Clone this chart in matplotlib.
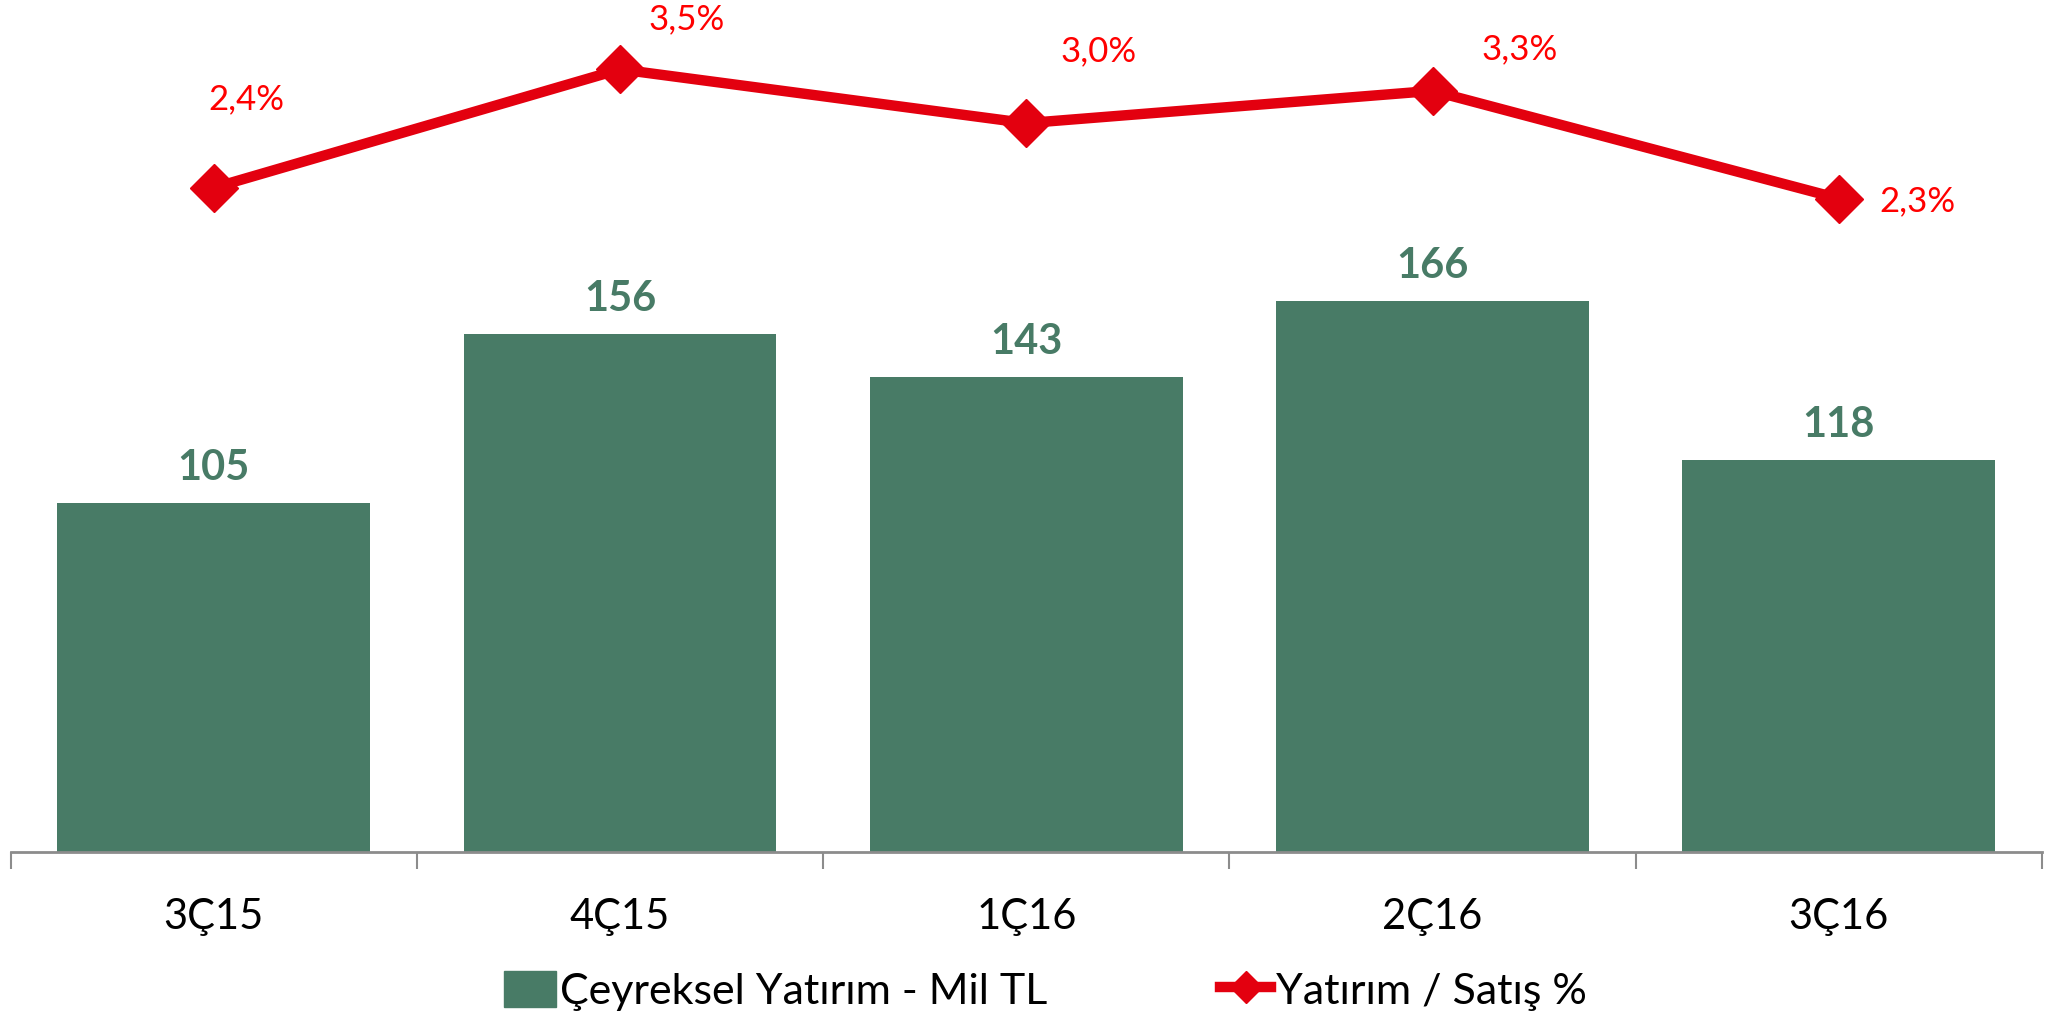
import numpy as np
import matplotlib.pyplot as plt
from matplotlib.lines import Line2D
from matplotlib.patches import Patch

plt.rcParams['font.family'] = ['Lato', 'DejaVu Sans']

quarters = ['3Ç15', '4Ç15', '1Ç16', '2Ç16', '3Ç16']
yatirim = [105, 156, 143, 166, 118]          # Mil TL
oran = [2.4, 3.5, 3.0, 3.3, 2.3]             # Yatırım / Satış %

GREEN = '#487B66'
RED_LINE = '#E3000F'
RED_TEXT = '#FF0000'
GRAY = '#8C8C8C'

# label offsets for the % labels (pixels), Excel-style hand placed
pct_offsets = [(33, 89), (67, 50), (72, 72), (87, 42), (79, -3)]

fig = plt.figure(figsize=(20.62, 10.21), dpi=100)
ax = fig.add_axes([0.0051, 0.1655, 0.9852, 0.813])
x = np.arange(len(quarters))

bars = ax.bar(x, yatirim, width=0.77, color=GREEN, zorder=2)
for xi, v in zip(x, yatirim):
    ax.annotate(str(v), (xi, v), xytext=(0, 16), textcoords='offset pixels',
                ha='center', va='bottom', fontsize=30, fontweight='bold',
                color=GREEN)

ax.set_xlim(-0.5, len(quarters) - 0.5)
ax.set_ylim(0, 250)
ax.set_yticks([])
for s in ['left', 'right', 'top']:
    ax.spines[s].set_visible(False)
ax.spines['bottom'].set_color(GRAY)
ax.spines['bottom'].set_linewidth(2)
ax.set_xticks(x)
ax.set_xticklabels(quarters, fontsize=30)
ax.tick_params(axis='x', which='major', length=0, pad=33)
ax.set_xticks(np.arange(-0.5, len(quarters), 1), minor=True)
ax.tick_params(axis='x', which='minor', length=12, width=1.5, color=GRAY)

ax2 = ax.twinx()
ax2.plot(x, oran, color=RED_LINE, lw=7.5, marker='D', markersize=24,
         zorder=3, solid_joinstyle='miter')
ax2.set_ylim(-3.77, 3.94)
ax2.axis('off')
for xi, v, (dx, dy) in zip(x, oran, pct_offsets):
    ax2.annotate(f'{v:.1f}%'.replace('.', ','), (xi, v), xytext=(dx, dy),
                 textcoords='offset pixels', ha='center', va='center',
                 fontsize=25, color=RED_TEXT)

handles = [Patch(color=GREEN, label='Çeyreksel Yatırım - Mil TL'),
           Line2D([], [], color=RED_LINE, lw=7.5, marker='D', markersize=16,
                  label='Yatırım / Satış %')]
fig.legend(handles=handles, loc='lower center', bbox_to_anchor=(0.507, -0.028),
           ncol=2, frameon=False, fontsize=31, handlelength=1.2,
           handleheight=0.9, handletextpad=0.1, columnspacing=4.0)

fig.savefig('out.png', dpi=100)
